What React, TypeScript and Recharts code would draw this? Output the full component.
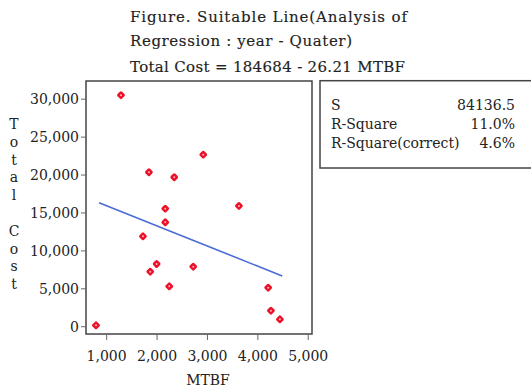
import React from 'react';
import { ComposedChart, Scatter, XAxis, YAxis, ReferenceArea } from 'recharts';

const mtbf = [1284, 2917, 1839, 2341, 2163, 3625, 2163, 1720, 1992, 1865, 2718, 2242, 4206, 4260, 4438, 788];
const totalCost = [30528, 22691, 20369, 19710, 15567, 15923, 13773, 11926, 8272, 7256, 7916, 5330, 5145, 2111, 976, 185];
const fitX = [849, 4484];
const fitY = [16359, 6689];
const xTicks = [1000, 2000, 3000, 4000, 5000];
const yTicks = [0, 5000, 10000, 15000, 20000, 25000, 30000];
const titleLines = ['Figure. Suitable Line(Analysis of', 'Regression : year - Quater)', 'Total Cost = 184684 - 26.21 MTBF'];
const statLabels = ['S', 'R-Square', 'R-Square(correct)'];
const statValues = ['84136.5', '11.0%', '4.6%'];
const yTitle = 'Total Cost';
const xTitle = 'MTBF';

const points = mtbf.map((x, i) => ({ x, y: totalCost[i] }));
const fitLine = fitX.map((x, i) => ({ x, y: fitY[i] }));

const FONT = '"DejaVu Serif", serif';
const fmt = (v: number) => v.toLocaleString('en-US');

const Marker = (props: any) => {
  const { cx, cy } = props;
  if (cx == null || cy == null) return <g />;
  return (
    <g>
      <rect x={cx - 3.2} y={cy - 3.2} width={6.4} height={6.4} rx={1.6} fill="#ec1028" transform={`rotate(45 ${cx} ${cy})`} />
      <circle cx={cx} cy={cy} r={1} fill="#ffb8c0" />
    </g>
  );
};

const NoShape = () => <g />;

const XTick = (props: any) => {
  const { x, y, payload } = props;
  return (
    <text x={x} y={y + 19} textAnchor="middle" fontFamily={FONT} fontSize={14} fill="#222">
      {fmt(payload.value)}
    </text>
  );
};

const YTick = (props: any) => {
  const { x, y, payload } = props;
  return (
    <text x={x} y={y + 5} textAnchor="end" fontFamily={FONT} fontSize={14} fill="#222">
      {fmt(payload.value)}
    </text>
  );
};

export default function App() {
  const yLetters = yTitle.split('');
  return (
    <div style={{ position: 'absolute', left: 0, top: 0, width: 531, height: 392, background: '#fff' }}>
      <ComposedChart width={531} height={392} margin={{ top: 81, right: 219, bottom: 28, left: 0 }}>
        <XAxis
          type="number"
          dataKey="x"
          domain={[590, 5075]}
          ticks={xTicks}
          allowDataOverflow
          axisLine={false}
          tickLine={{ stroke: '#666' }}
          tickSize={6}
          height={30}
          tick={<XTick />}
        />
        <YAxis
          type="number"
          dataKey="y"
          domain={[-960, 32400]}
          ticks={yTicks}
          allowDataOverflow
          axisLine={false}
          tickLine={{ stroke: '#666' }}
          tickSize={5}
          width={86}
          tick={<YTick />}
        />
        <ReferenceArea x1={590} x2={5075} y1={-960} y2={32400} fill="none" stroke="#444" strokeWidth={1.5} />
        <Scatter data={fitLine} line={{ stroke: '#4a6cd4', strokeWidth: 1.6 }} shape={<NoShape />} isAnimationActive={false} legendType="none" />
        <Scatter data={points} shape={<Marker />} isAnimationActive={false} legendType="none" />
      </ComposedChart>
      <svg width={531} height={392} style={{ position: 'absolute', left: 0, top: 0, pointerEvents: 'none' }}>
        <g stroke="#222" strokeWidth={0.15}>
          <text x={130} y={22} fontFamily={FONT} fontSize={15} fill="#222" textLength={277} lengthAdjust="spacing">{titleLines[0]}</text>
          <text x={130} y={46} fontFamily={FONT} fontSize={15} fill="#222" textLength={222} lengthAdjust="spacing">{titleLines[1]}</text>
          <text x={130} y={72} fontFamily={FONT} fontSize={15} fill="#222" textLength={275} lengthAdjust="spacing">{titleLines[2]}</text>
        </g>
        {yLetters.map((ch, i) =>
          ch === ' ' ? null : (
            <text key={i} x={14} y={129 + i * 17.8} textAnchor="middle" fontFamily={FONT} fontSize={14} fill="#222">{ch}</text>
          )
        )}
        <text x={208} y={385} textAnchor="middle" fontFamily={FONT} fontSize={14} fill="#222">{xTitle}</text>
        <rect x={320} y={80.7} width={220} height={87.3} fill="none" stroke="#444" strokeWidth={1.5} />
        {statLabels.map((s, i) => (
          <text key={s} x={331} y={109.5 + i * 19.3} fontFamily={FONT} fontSize={14} fill="#222">{s}</text>
        ))}
        {statValues.map((s, i) => (
          <text key={s} x={515} y={109.5 + i * 19.3} textAnchor="end" fontFamily={FONT} fontSize={14} fill="#222">{s}</text>
        ))}
      </svg>
    </div>
  );
}
